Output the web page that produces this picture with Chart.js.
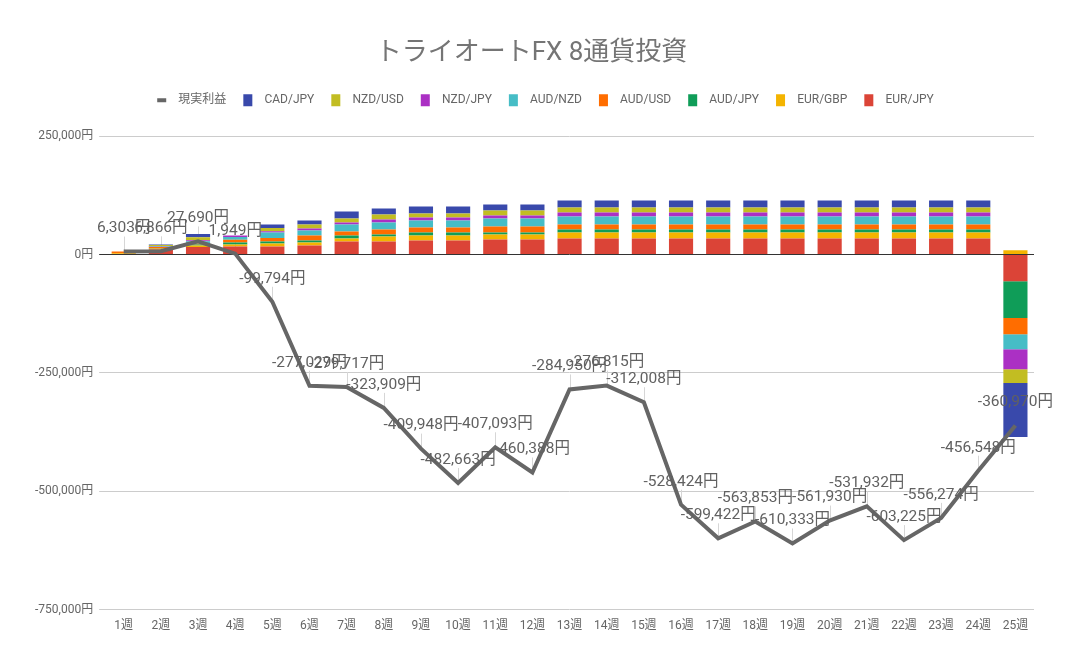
<!DOCTYPE html>
<html>
<head>
<meta charset="utf-8">
<script src="https://cdn.jsdelivr.net/npm/chart.js@4/dist/chart.umd.min.js"></script>
<style>
  body { margin: 0; background: #fff; }
</style>
</head>
<body>
<canvas id="fxChart" width="1074" height="664"></canvas>
<script>
// ========== データ ==========
const weeks = ['1週', '2週', '3週', '4週', '5週', '6週', '7週', '8週', '9週', '10週', '11週', '12週', '13週',
    '14週', '15週', '16週', '17週', '18週', '19週', '20週', '21週', '22週', '23週', '24週', '25週'];

// 現実利益 (折れ線)
const realized = [6303, 6866, 27690, 1949, -99794, -277029, -279717, -323909, -409948, -482663, -407093, -460388,
    -284950, -276815, -312008, -528424, -599422, -563853, -610333, -561930, -531932, -603225, -556274, -456548, -360970];

// 通貨ペア別 (積み上げ棒)
const eurJpy = [0, 10500, 16000, 17000, 16900, 19000, 27500, 27500, 29600, 29600, 31700, 31700, 33800,
    33800, 33800, 33800, 33800, 33800, 33800, 33800, 33800, 33800, 33800, 33800, -56400];
const eurGbp = [3000, 1500, 3000, 4200, 6300, 6300, 6300, 10600, 10600, 10600, 10600, 10600, 12700,
    12700, 12700, 12700, 12700, 12700, 12700, 12700, 12700, 12700, 12700, 12700, 9000];
const audJpy = [0, 1000, 2000, 4200, 4200, 4200, 6300, 4200, 6300, 6300, 4200, 4200, 6300,
    6300, 6300, 6300, 6300, 6300, 6300, 6300, 6300, 6300, 6300, 6300, -77500];
const audUsd = [3300, 3000, 2500, 5600, 7800, 10600, 8500, 10600, 10600, 10600, 12700, 12700, 10600,
    10600, 10600, 10600, 10600, 10600, 10600, 10600, 10600, 10600, 10600, 10600, -34400];
const audNzd = [0, 1000, 4500, 6300, 11300, 10600, 14800, 14800, 14800, 14800, 16900, 16900, 16900,
    16900, 16900, 16900, 16900, 16900, 16900, 16900, 16900, 16900, 16900, 16900, -31700];
const nzdJpy = [0, 1000, 2000, 2800, 2800, 4200, 4200, 6300, 6300, 6300, 6300, 6300, 8500,
    8500, 8500, 8500, 8500, 8500, 8500, 8500, 8500, 8500, 8500, 8500, -42300];
const nzdUsd = [0, 2000, 6500, 0, 7000, 8500, 8500, 10600, 8500, 8500, 10600, 10600, 10600,
    10600, 10600, 10600, 10600, 10600, 10600, 10600, 10600, 10600, 10600, 10600, -29000];
const cadJpy = [0, 1000, 7000, 0, 7000, 8500, 14800, 12700, 14800, 14800, 12700, 12700, 14800,
    14800, 14800, 14800, 14800, 14800, 14800, 14800, 14800, 14800, 14800, 14800, -114100];

const yTicks = [250000, 0, -250000, -500000, -750000];

const FONT = 'Roboto, "Noto Sans CJK JP", sans-serif';
const yen = v => v.toLocaleString('en-US') + '円';

function barSet(label, data, color) {
    return { type: 'bar', label: label, data: data, backgroundColor: color, borderWidth: 0, pointStyle: 'rect' };
}

// ========== プラグイン ==========
// 折れ線の値ラベル（Googleスプレッドシート風）
const lineLabels = {
    id: 'lineLabels',
    beforeDatasetsDraw(chart) {
        const meta = chart.getDatasetMeta(0);
        const ctx = chart.ctx;
        ctx.save();
        ctx.strokeStyle = '#d6d6d6';
        ctx.lineWidth = 1;
        meta.data.forEach(pt => {
            const x = Math.round(pt.x) + 0.5;
            ctx.beginPath();
            ctx.moveTo(x, pt.y - 15);
            ctx.lineTo(x, pt.y);
            ctx.stroke();
        });
        ctx.restore();
    },
    afterDatasetsDraw(chart) {
        const meta = chart.getDatasetMeta(0);
        const ctx = chart.ctx;
        ctx.save();
        ctx.font = '15.5px ' + FONT;
        ctx.fillStyle = '#616161';
        ctx.textAlign = 'center';
        ctx.textBaseline = 'middle';
        meta.data.forEach((pt, i) => {
            ctx.fillText(yen(realized[i]), pt.x, pt.y - 23);
        });
        ctx.restore();
    }
};

// 凡例の位置調整（グラフとの間隔・少し右へ）
const legendGap = {
    id: 'legendGap',
    afterInit(chart) {
        const legend = chart.legend;
        const fit = legend.fit;
        const draw = legend.draw;
        legend.fit = function () {
            fit.call(this);
            this.height += 20;
        };
        legend.draw = function () {
            this.ctx.save();
            this.ctx.translate(14, 0);
            draw.apply(this, arguments);
            this.ctx.restore();
        };
    }
};

// ========== チャート ==========
const ctx = document.getElementById('fxChart').getContext('2d');
new Chart(ctx, {
    data: {
        labels: weeks,
        datasets: [
            {
                type: 'line',
                label: '現実利益',
                data: realized,
                borderColor: '#666666',
                backgroundColor: '#666666',
                borderWidth: 4,
                pointRadius: 0,
                tension: 0,
                stack: 'line',
                pointStyle: 'line'
            },
            barSet('EUR/JPY', eurJpy, '#db4437'),
            barSet('EUR/GBP', eurGbp, '#f4b400'),
            barSet('AUD/JPY', audJpy, '#0f9d58'),
            barSet('AUD/USD', audUsd, '#ff6d00'),
            barSet('AUD/NZD', audNzd, '#46bdc6'),
            barSet('NZD/JPY', nzdJpy, '#ab30c4'),
            barSet('NZD/USD', nzdUsd, '#c2bd22'),
            barSet('CAD/JPY', cadJpy, '#3949ab')
        ]
    },
    options: {
        responsive: false,
        animation: false,
        layout: { padding: { left: 29, right: 40, top: 0, bottom: 22 } },
        datasets: {
            bar: { barPercentage: 0.65, categoryPercentage: 1 }
        },
        plugins: {
            title: {
                display: true,
                text: 'トライオートFX 8通貨投資',
                color: '#757575',
                font: { family: FONT, size: 26, weight: 'normal' },
                padding: { top: 38, bottom: 8 }
            },
            legend: {
                position: 'top',
                labels: {
                    usePointStyle: true,
                    pointStyleWidth: 9,
                    boxHeight: 12,
                    padding: 17,
                    color: '#666666',
                    font: { family: FONT, size: 12 },
                    // 記号と文字の間を少し広げる
                    generateLabels: chart => Chart.defaults.plugins.legend.labels.generateLabels(chart)
                        .map(item => Object.assign(item, { text: '\u2002' + item.text })),
                    sort: (a, b) => {
                        const rank = it => it.datasetIndex === 0 ? -100 : -it.datasetIndex;
                        return rank(a) - rank(b);
                    }
                }
            },
            tooltip: { enabled: false }
        },
        scales: {
            x: {
                stacked: true,
                grid: { display: false, drawTicks: false },
                border: { display: false },
                ticks: {
                    color: '#666666',
                    font: { family: FONT, size: 12 },
                    padding: 9,
                    maxRotation: 0,
                    autoSkip: false
                }
            },
            y: {
                stacked: true,
                min: -750000,
                max: 250000,
                afterBuildTicks: axis => { axis.ticks = yTicks.map(v => ({ value: v })); },
                grid: {
                    color: c => (c.tick && c.tick.value === 0) ? '#333333' : '#cccccc',
                    tickLength: 6
                },
                border: { display: false },
                ticks: {
                    color: '#666666',
                    font: { family: FONT, size: 12 },
                    padding: 6,
                    callback: v => yen(v)
                }
            }
        }
    },
    plugins: [lineLabels, legendGap]
});
</script>
</body>
</html>
